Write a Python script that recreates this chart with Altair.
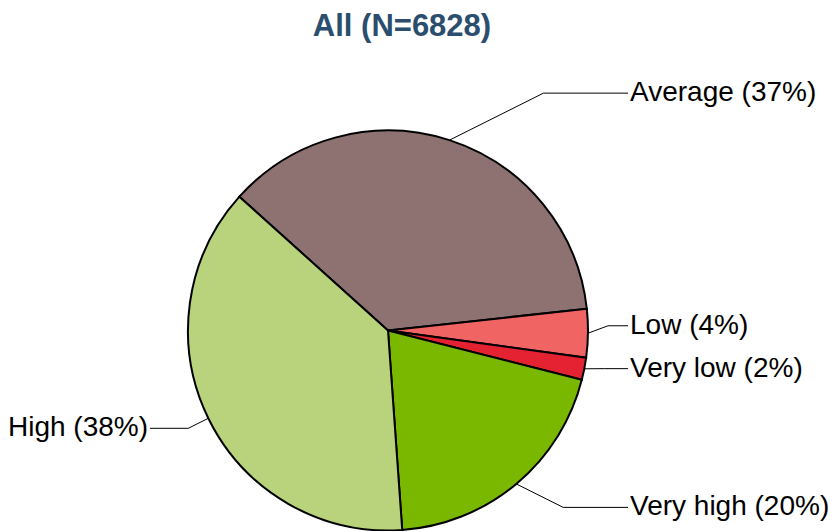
import math
import altair as alt
import pandas as pd

# ---- data ----
TITLE = "All (N=6828)"
categories = ["Average", "Low", "Very low", "Very high", "High"]
shares = [36.6, 3.9, 1.8, 19.9, 37.8]
label_texts = ["Average (37%)", "Low (4%)", "Very low (2%)", "Very high (20%)", "High (38%)"]
slice_colors = ["#8E7272", "#F06464", "#E52232", "#7AB800", "#B9D37C"]

# ---- layout ----
W, H = 760, 401
PAD = {"left": 0, "top": 122, "right": 64, "bottom": 0}
R = 200
START_DEG = 312.0
CX, CY = W / 2, H / 2
LABEL_K = 1.205
LABEL_SHIFT = -8
FONT = "Liberation Sans"
LABEL_SIZE = 28

total = sum(shares)
start_rad = math.radians(START_DEG)

pie_rows, line_rows, text_rows = [], [], []
cum = 0.0
for i, (cat, s, lab) in enumerate(zip(categories, shares, label_texts)):
    a0 = START_DEG + cum / total * 360
    cum += s
    a1 = START_DEG + cum / total * 360
    mid = math.radians((a0 + a1) / 2)
    pie_rows.append({"category": cat, "share": s, "idx": i})
    edge_x = CX + R * math.sin(mid)
    edge_y = CY - R * math.cos(mid)
    side = 1 if math.sin(mid) > 0 else -1
    ly = CY - LABEL_K * R * math.cos(mid) + LABEL_SHIFT
    ex = edge_x + side * max(20, 2 * abs(ly - edge_y))
    gap = 40 if side > 0 else 38
    end_x = CX + side * (R + gap)
    for k, (px, py) in enumerate([(edge_x, edge_y), (ex, ly), (end_x, ly)]):
        line_rows.append({"category": cat, "k": k, "x": px, "y": py})
    text_rows.append({"label": lab, "x": CX + side * (R + gap + 2), "y": ly, "side": side})

pie_df = pd.DataFrame(pie_rows)
line_df = pd.DataFrame(line_rows)
text_df = pd.DataFrame(text_rows)

xs = alt.Scale(domain=[0, W], nice=False, zero=False)
ys = alt.Scale(domain=[0, H], reverse=True, nice=False, zero=False)

pie = alt.Chart(pie_df).mark_arc(radius=R, stroke="black", strokeWidth=2).encode(
    theta=alt.Theta("share:Q", stack=True,
                    scale=alt.Scale(range=[start_rad, start_rad + 2 * math.pi])),
    color=alt.Color("category:N", scale=alt.Scale(domain=categories, range=slice_colors), legend=None),
    order=alt.Order("idx:Q"),
)

leaders = alt.Chart(line_df).mark_line(color="black", strokeWidth=1).encode(
    x=alt.X("x:Q", scale=xs, axis=None),
    y=alt.Y("y:Q", scale=ys, axis=None),
    detail="category:N",
    order=alt.Order("k:Q"),
)

text_right = alt.Chart(text_df[text_df.side > 0]).mark_text(
    align="left", baseline="middle", font=FONT, fontSize=LABEL_SIZE, color="black"
).encode(x=alt.X("x:Q", scale=xs, axis=None), y=alt.Y("y:Q", scale=ys, axis=None), text="label:N")

text_left = alt.Chart(text_df[text_df.side < 0]).mark_text(
    align="right", baseline="middle", font=FONT, fontSize=LABEL_SIZE, color="black"
).encode(x=alt.X("x:Q", scale=xs, axis=None), y=alt.Y("y:Q", scale=ys, axis=None), text="label:N")

chart = alt.layer(pie, leaders, text_right, text_left).properties(
    width=W,
    height=H,
    padding=PAD,
    autosize=alt.AutoSizeParams(type="none"),
    title=alt.Title(TITLE, font=FONT, fontSize=31, fontWeight="bold", color="#2B4D6E",
                    anchor="middle", dx=14, offset=5, baseline="bottom"),
).configure_view(stroke=None)

chart.save("out.html", embed_options={"renderer": "svg", "actions": False})
